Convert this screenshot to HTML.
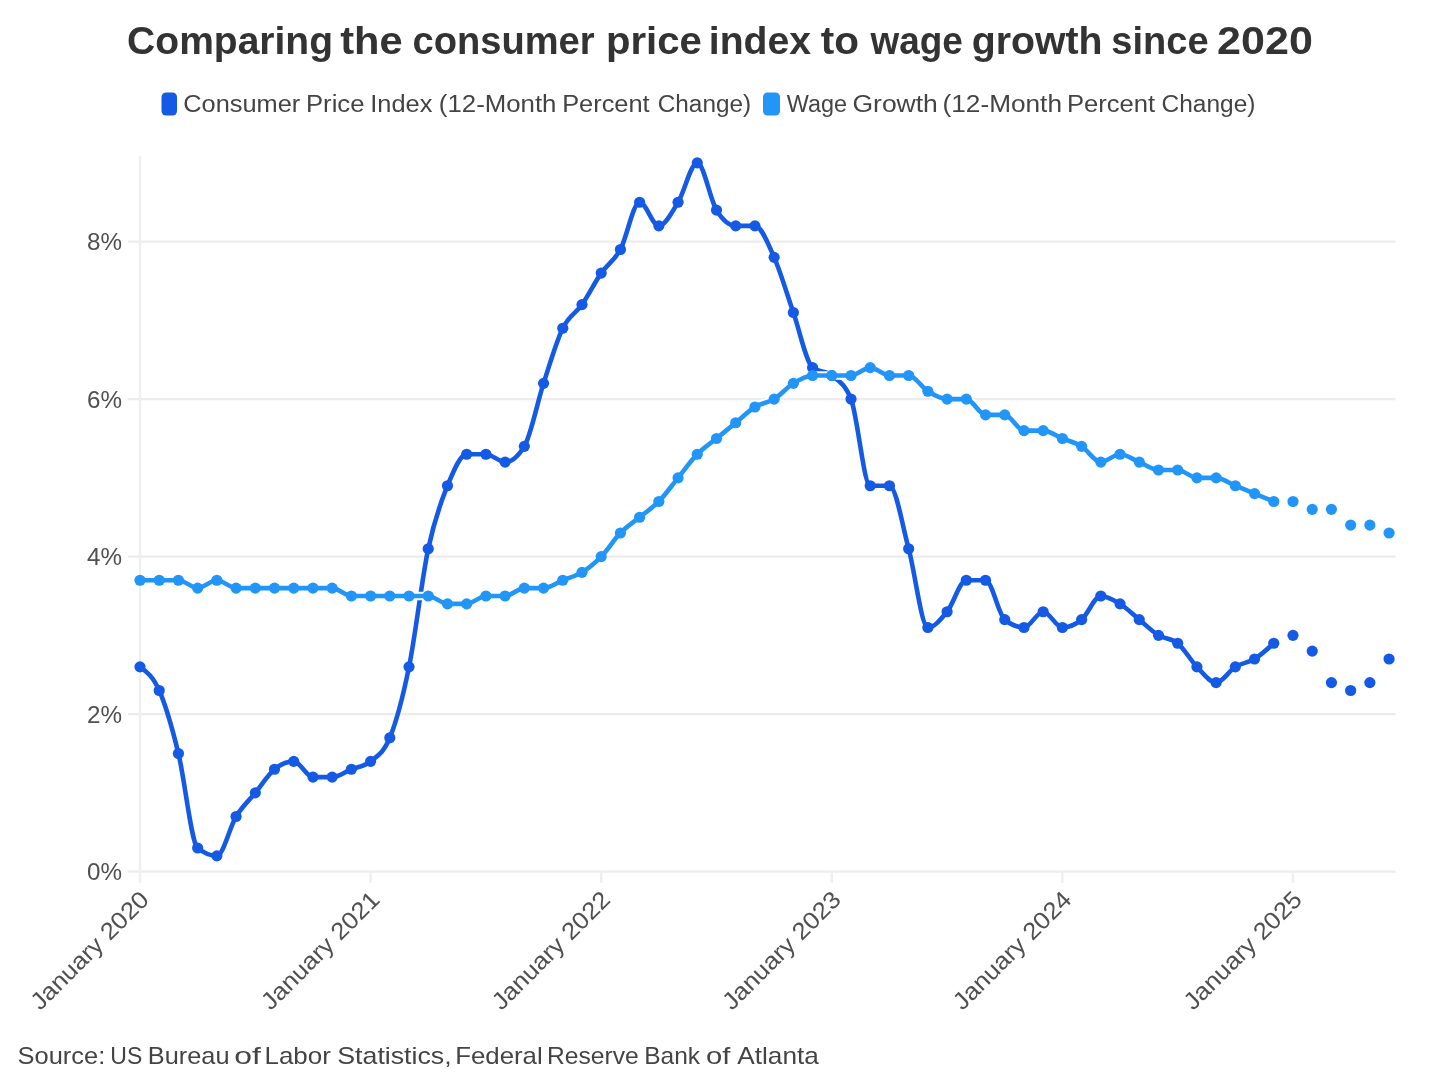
<!DOCTYPE html>
<html><head><meta charset="utf-8"><style>
html,body{margin:0;padding:0;background:#fff;width:1440px;height:1090px;overflow:hidden}
svg{display:block;filter:blur(0.5px)}
text{font-family:"Liberation Sans",sans-serif}
.t{font-weight:bold;font-size:38.5px;fill:#333}
.lg{font-size:23.5px;fill:#444}
.yl{font-size:24px;fill:#505050}
.xl{font-size:24px;fill:#505050}
.src{font-size:24px;fill:#444}
</style></head><body>
<svg width="1440" height="1090" viewBox="0 0 1440 1090">
<rect width="1440" height="1090" fill="#fff"/>
<text x="127.13" y="54.00" class="t" textLength="205.90" lengthAdjust="spacingAndGlyphs">Comparing</text><text x="340.26" y="54.00" class="t" textLength="62.45" lengthAdjust="spacingAndGlyphs">the</text><text x="412.52" y="54.00" class="t" textLength="182.08" lengthAdjust="spacingAndGlyphs">consumer</text><text x="605.90" y="54.00" class="t" textLength="95.88" lengthAdjust="spacingAndGlyphs">price</text><text x="708.75" y="54.00" class="t" textLength="102.31" lengthAdjust="spacingAndGlyphs">index</text><text x="820.77" y="54.00" class="t" textLength="38.24" lengthAdjust="spacingAndGlyphs">to</text><text x="870.50" y="54.00" class="t" textLength="92.34" lengthAdjust="spacingAndGlyphs">wage</text><text x="971.67" y="54.00" class="t" textLength="130.88" lengthAdjust="spacingAndGlyphs">growth</text><text x="1111.32" y="54.00" class="t" textLength="97.22" lengthAdjust="spacingAndGlyphs">since</text><text x="1217.05" y="54.00" class="t" textLength="95.80" lengthAdjust="spacingAndGlyphs">2020</text>
<rect x="161.5" y="92.5" width="15.5" height="23" rx="4.5" fill="#155ae4"/>
<text x="183.31" y="112.30" class="lg" textLength="116.93" lengthAdjust="spacingAndGlyphs">Consumer</text><text x="306.03" y="112.30" class="lg" textLength="58.41" lengthAdjust="spacingAndGlyphs">Price</text><text x="370.32" y="112.30" class="lg" textLength="62.09" lengthAdjust="spacingAndGlyphs">Index</text><text x="438.86" y="112.30" class="lg" textLength="117.59" lengthAdjust="spacingAndGlyphs">(12-Month</text><text x="562.15" y="112.30" class="lg" textLength="87.55" lengthAdjust="spacingAndGlyphs">Percent</text><text x="657.76" y="112.30" class="lg" textLength="93.34" lengthAdjust="spacingAndGlyphs">Change)</text>
<rect x="763" y="92.5" width="17" height="23" rx="4.5" fill="#2196f8"/>
<text x="786.80" y="112.30" class="lg" textLength="60.31" lengthAdjust="spacingAndGlyphs">Wage</text><text x="852.45" y="112.30" class="lg" textLength="85.43" lengthAdjust="spacingAndGlyphs">Growth</text><text x="942.54" y="112.30" class="lg" textLength="119.44" lengthAdjust="spacingAndGlyphs">(12-Month</text><text x="1066.93" y="112.30" class="lg" textLength="88.17" lengthAdjust="spacingAndGlyphs">Percent</text><text x="1161.55" y="112.30" class="lg" textLength="93.86" lengthAdjust="spacingAndGlyphs">Change)</text>
<line x1="128" y1="871.6" x2="1395.5" y2="871.6" stroke="#ececec" stroke-width="2.4"/><text x="122" y="880.4" text-anchor="end" class="yl" textLength="35" lengthAdjust="spacingAndGlyphs">0%</text><line x1="128" y1="714.1" x2="1395.5" y2="714.1" stroke="#ececec" stroke-width="2.4"/><text x="122" y="722.9" text-anchor="end" class="yl" textLength="35" lengthAdjust="spacingAndGlyphs">2%</text><line x1="128" y1="556.6" x2="1395.5" y2="556.6" stroke="#ececec" stroke-width="2.4"/><text x="122" y="565.4" text-anchor="end" class="yl" textLength="35" lengthAdjust="spacingAndGlyphs">4%</text><line x1="128" y1="399.1" x2="1395.5" y2="399.1" stroke="#ececec" stroke-width="2.4"/><text x="122" y="407.9" text-anchor="end" class="yl" textLength="35" lengthAdjust="spacingAndGlyphs">6%</text><line x1="128" y1="241.6" x2="1395.5" y2="241.6" stroke="#ececec" stroke-width="2.4"/><text x="122" y="250.4" text-anchor="end" class="yl" textLength="35" lengthAdjust="spacingAndGlyphs">8%</text><line x1="140" y1="156" x2="140" y2="883" stroke="#eef0ef" stroke-width="2.4"/><line x1="370.6" y1="871" x2="370.6" y2="883" stroke="#eef0ef" stroke-width="2.4"/><line x1="601.2" y1="871" x2="601.2" y2="883" stroke="#eef0ef" stroke-width="2.4"/><line x1="831.8" y1="871" x2="831.8" y2="883" stroke="#eef0ef" stroke-width="2.4"/><line x1="1062.4" y1="871" x2="1062.4" y2="883" stroke="#eef0ef" stroke-width="2.4"/><line x1="1293.0" y1="871" x2="1293.0" y2="883" stroke="#eef0ef" stroke-width="2.4"/>
<text transform="translate(150.5,901) rotate(-45)" text-anchor="end" class="xl" textLength="156" lengthAdjust="spacingAndGlyphs">January 2020</text><text transform="translate(381.1,901) rotate(-45)" text-anchor="end" class="xl" textLength="156" lengthAdjust="spacingAndGlyphs">January 2021</text><text transform="translate(611.7,901) rotate(-45)" text-anchor="end" class="xl" textLength="156" lengthAdjust="spacingAndGlyphs">January 2022</text><text transform="translate(842.3,901) rotate(-45)" text-anchor="end" class="xl" textLength="156" lengthAdjust="spacingAndGlyphs">January 2023</text><text transform="translate(1072.9,901) rotate(-45)" text-anchor="end" class="xl" textLength="156" lengthAdjust="spacingAndGlyphs">January 2024</text><text transform="translate(1303.5,901) rotate(-45)" text-anchor="end" class="xl" textLength="156" lengthAdjust="spacingAndGlyphs">January 2025</text>
<path d="M140.00,666.85C146.41,671.44,152.81,676.04,159.22,690.48C165.62,704.91,172.03,727.23,178.43,753.48C184.84,779.73,191.24,842.73,197.65,847.98C204.06,853.23,210.46,855.85,216.87,855.85C223.27,855.85,229.68,826.98,236.08,816.48C242.49,805.98,248.89,800.73,255.30,792.85C261.71,784.98,268.11,774.48,274.52,769.23C280.92,763.98,287.33,761.35,293.73,761.35C300.14,761.35,306.54,777.10,312.95,777.10C319.36,777.10,325.76,777.10,332.17,777.10C338.57,777.10,344.98,771.85,351.38,769.23C357.79,766.60,364.19,766.60,370.60,761.35C377.01,756.10,383.41,753.48,389.82,737.73C396.22,721.98,402.63,698.35,409.03,666.85C415.44,635.35,421.84,578.91,428.25,548.73C434.66,518.54,441.06,501.48,447.47,485.73C453.87,469.98,460.28,454.23,466.68,454.23C473.09,454.23,479.49,454.23,485.90,454.23C492.31,454.23,498.71,462.10,505.12,462.10C511.52,462.10,517.93,456.85,524.33,446.35C530.74,435.85,537.14,403.04,543.55,383.35C549.96,363.66,556.36,341.35,562.77,328.23C569.17,315.10,575.58,313.79,581.98,304.60C588.39,295.41,594.79,282.29,601.20,273.10C607.61,263.91,614.01,261.29,620.42,249.48C626.82,237.66,633.23,202.23,639.63,202.23C646.04,202.23,652.44,225.85,658.85,225.85C665.26,225.85,671.66,212.73,678.07,202.23C684.47,191.73,690.88,162.85,697.28,162.85C703.69,162.85,710.09,199.60,716.50,210.10C722.91,220.60,729.31,225.85,735.72,225.85C742.12,225.85,748.53,225.85,754.93,225.85C761.34,225.85,767.74,242.91,774.15,257.35C780.56,271.79,786.96,294.10,793.37,312.48C799.77,330.85,806.18,362.35,812.58,367.60C818.99,372.85,825.39,370.23,831.80,375.48C838.21,380.73,844.61,383.35,851.02,399.10C857.42,414.85,863.83,485.73,870.23,485.73C876.64,485.73,883.04,485.73,889.45,485.73C895.86,485.73,902.26,525.10,908.67,548.73C915.07,572.35,921.48,627.48,927.88,627.48C934.29,627.48,940.69,619.60,947.10,611.73C953.51,603.85,959.91,580.23,966.32,580.23C972.72,580.23,979.13,580.23,985.53,580.23C991.94,580.23,998.34,614.35,1004.75,619.60C1011.16,624.85,1017.56,627.48,1023.97,627.48C1030.37,627.48,1036.78,611.73,1043.18,611.73C1049.59,611.73,1055.99,627.48,1062.40,627.48C1068.81,627.48,1075.21,624.85,1081.62,619.60C1088.02,614.35,1094.43,595.98,1100.83,595.98C1107.24,595.98,1113.64,599.91,1120.05,603.85C1126.46,607.79,1132.86,614.35,1139.27,619.60C1145.67,624.85,1152.08,631.41,1158.48,635.35C1164.89,639.29,1171.29,637.98,1177.70,643.23C1184.11,648.48,1190.51,660.29,1196.92,666.85C1203.32,673.41,1209.73,682.60,1216.13,682.60C1222.54,682.60,1228.94,670.79,1235.35,666.85C1241.76,662.91,1248.16,662.91,1254.57,658.98C1260.97,655.04,1267.38,649.13,1273.78,643.23" fill="none" stroke="#155ae4" stroke-width="4.6" stroke-linejoin="round" stroke-linecap="round"/><circle cx="140.00" cy="666.85" r="5.6" fill="#155ae4"/><circle cx="159.22" cy="690.48" r="5.6" fill="#155ae4"/><circle cx="178.43" cy="753.48" r="5.6" fill="#155ae4"/><circle cx="197.65" cy="847.98" r="5.6" fill="#155ae4"/><circle cx="216.87" cy="855.85" r="5.6" fill="#155ae4"/><circle cx="236.08" cy="816.48" r="5.6" fill="#155ae4"/><circle cx="255.30" cy="792.85" r="5.6" fill="#155ae4"/><circle cx="274.52" cy="769.23" r="5.6" fill="#155ae4"/><circle cx="293.73" cy="761.35" r="5.6" fill="#155ae4"/><circle cx="312.95" cy="777.10" r="5.6" fill="#155ae4"/><circle cx="332.17" cy="777.10" r="5.6" fill="#155ae4"/><circle cx="351.38" cy="769.23" r="5.6" fill="#155ae4"/><circle cx="370.60" cy="761.35" r="5.6" fill="#155ae4"/><circle cx="389.82" cy="737.73" r="5.6" fill="#155ae4"/><circle cx="409.03" cy="666.85" r="5.6" fill="#155ae4"/><circle cx="428.25" cy="548.73" r="5.6" fill="#155ae4"/><circle cx="447.47" cy="485.73" r="5.6" fill="#155ae4"/><circle cx="466.68" cy="454.23" r="5.6" fill="#155ae4"/><circle cx="485.90" cy="454.23" r="5.6" fill="#155ae4"/><circle cx="505.12" cy="462.10" r="5.6" fill="#155ae4"/><circle cx="524.33" cy="446.35" r="5.6" fill="#155ae4"/><circle cx="543.55" cy="383.35" r="5.6" fill="#155ae4"/><circle cx="562.77" cy="328.23" r="5.6" fill="#155ae4"/><circle cx="581.98" cy="304.60" r="5.6" fill="#155ae4"/><circle cx="601.20" cy="273.10" r="5.6" fill="#155ae4"/><circle cx="620.42" cy="249.48" r="5.6" fill="#155ae4"/><circle cx="639.63" cy="202.23" r="5.6" fill="#155ae4"/><circle cx="658.85" cy="225.85" r="5.6" fill="#155ae4"/><circle cx="678.07" cy="202.23" r="5.6" fill="#155ae4"/><circle cx="697.28" cy="162.85" r="5.6" fill="#155ae4"/><circle cx="716.50" cy="210.10" r="5.6" fill="#155ae4"/><circle cx="735.72" cy="225.85" r="5.6" fill="#155ae4"/><circle cx="754.93" cy="225.85" r="5.6" fill="#155ae4"/><circle cx="774.15" cy="257.35" r="5.6" fill="#155ae4"/><circle cx="793.37" cy="312.48" r="5.6" fill="#155ae4"/><circle cx="812.58" cy="367.60" r="5.6" fill="#155ae4"/><circle cx="831.80" cy="375.48" r="5.6" fill="#155ae4"/><circle cx="851.02" cy="399.10" r="5.6" fill="#155ae4"/><circle cx="870.23" cy="485.73" r="5.6" fill="#155ae4"/><circle cx="889.45" cy="485.73" r="5.6" fill="#155ae4"/><circle cx="908.67" cy="548.73" r="5.6" fill="#155ae4"/><circle cx="927.88" cy="627.48" r="5.6" fill="#155ae4"/><circle cx="947.10" cy="611.73" r="5.6" fill="#155ae4"/><circle cx="966.32" cy="580.23" r="5.6" fill="#155ae4"/><circle cx="985.53" cy="580.23" r="5.6" fill="#155ae4"/><circle cx="1004.75" cy="619.60" r="5.6" fill="#155ae4"/><circle cx="1023.97" cy="627.48" r="5.6" fill="#155ae4"/><circle cx="1043.18" cy="611.73" r="5.6" fill="#155ae4"/><circle cx="1062.40" cy="627.48" r="5.6" fill="#155ae4"/><circle cx="1081.62" cy="619.60" r="5.6" fill="#155ae4"/><circle cx="1100.83" cy="595.98" r="5.6" fill="#155ae4"/><circle cx="1120.05" cy="603.85" r="5.6" fill="#155ae4"/><circle cx="1139.27" cy="619.60" r="5.6" fill="#155ae4"/><circle cx="1158.48" cy="635.35" r="5.6" fill="#155ae4"/><circle cx="1177.70" cy="643.23" r="5.6" fill="#155ae4"/><circle cx="1196.92" cy="666.85" r="5.6" fill="#155ae4"/><circle cx="1216.13" cy="682.60" r="5.6" fill="#155ae4"/><circle cx="1235.35" cy="666.85" r="5.6" fill="#155ae4"/><circle cx="1254.57" cy="658.98" r="5.6" fill="#155ae4"/><circle cx="1273.78" cy="643.23" r="5.6" fill="#155ae4"/><circle cx="1293.00" cy="635.35" r="5.6" fill="#155ae4"/><circle cx="1312.22" cy="651.10" r="5.6" fill="#155ae4"/><circle cx="1331.43" cy="682.60" r="5.6" fill="#155ae4"/><circle cx="1350.65" cy="690.48" r="5.6" fill="#155ae4"/><circle cx="1369.87" cy="682.60" r="5.6" fill="#155ae4"/><circle cx="1389.08" cy="658.98" r="5.6" fill="#155ae4"/>
<path d="M140.00,580.23C146.41,580.23,152.81,580.23,159.22,580.23C165.62,580.23,172.03,580.23,178.43,580.23C184.84,580.23,191.24,588.10,197.65,588.10C204.06,588.10,210.46,580.23,216.87,580.23C223.27,580.23,229.68,588.10,236.08,588.10C242.49,588.10,248.89,588.10,255.30,588.10C261.71,588.10,268.11,588.10,274.52,588.10C280.92,588.10,287.33,588.10,293.73,588.10C300.14,588.10,306.54,588.10,312.95,588.10C319.36,588.10,325.76,588.10,332.17,588.10C338.57,588.10,344.98,595.98,351.38,595.98C357.79,595.98,364.19,595.98,370.60,595.98C377.01,595.98,383.41,595.98,389.82,595.98C396.22,595.98,402.63,595.98,409.03,595.98C415.44,595.98,421.84,595.98,428.25,595.98C434.66,595.98,441.06,603.85,447.47,603.85C453.87,603.85,460.28,603.85,466.68,603.85C473.09,603.85,479.49,595.98,485.90,595.98C492.31,595.98,498.71,595.98,505.12,595.98C511.52,595.98,517.93,588.10,524.33,588.10C530.74,588.10,537.14,588.10,543.55,588.10C549.96,588.10,556.36,582.85,562.77,580.23C569.17,577.60,575.58,576.29,581.98,572.35C588.39,568.41,594.79,563.16,601.20,556.60C607.61,550.04,614.01,539.54,620.42,532.98C626.82,526.41,633.23,522.48,639.63,517.23C646.04,511.98,652.44,508.04,658.85,501.48C665.26,494.91,671.66,485.73,678.07,477.85C684.47,469.98,690.88,460.79,697.28,454.23C703.69,447.66,710.09,443.73,716.50,438.48C722.91,433.23,729.31,427.98,735.72,422.73C742.12,417.48,748.53,410.91,754.93,406.98C761.34,403.04,767.74,403.04,774.15,399.10C780.56,395.16,786.96,387.29,793.37,383.35C799.77,379.41,806.18,375.48,812.58,375.48C818.99,375.48,825.39,375.48,831.80,375.48C838.21,375.48,844.61,375.48,851.02,375.48C857.42,375.48,863.83,367.60,870.23,367.60C876.64,367.60,883.04,375.48,889.45,375.48C895.86,375.48,902.26,375.48,908.67,375.48C915.07,375.48,921.48,387.29,927.88,391.23C934.29,395.16,940.69,399.10,947.10,399.10C953.51,399.10,959.91,399.10,966.32,399.10C972.72,399.10,979.13,414.85,985.53,414.85C991.94,414.85,998.34,414.85,1004.75,414.85C1011.16,414.85,1017.56,430.60,1023.97,430.60C1030.37,430.60,1036.78,430.60,1043.18,430.60C1049.59,430.60,1055.99,435.85,1062.40,438.48C1068.81,441.10,1075.21,442.41,1081.62,446.35C1088.02,450.29,1094.43,462.10,1100.83,462.10C1107.24,462.10,1113.64,454.23,1120.05,454.23C1126.46,454.23,1132.86,459.48,1139.27,462.10C1145.67,464.73,1152.08,469.98,1158.48,469.98C1164.89,469.98,1171.29,469.98,1177.70,469.98C1184.11,469.98,1190.51,477.85,1196.92,477.85C1203.32,477.85,1209.73,477.85,1216.13,477.85C1222.54,477.85,1228.94,483.10,1235.35,485.73C1241.76,488.35,1248.16,490.98,1254.57,493.60C1260.97,496.23,1267.38,498.85,1273.78,501.48" fill="none" stroke="#fff" stroke-width="8.6" stroke-linejoin="round" stroke-linecap="round"/><path d="M140.00,580.23C146.41,580.23,152.81,580.23,159.22,580.23C165.62,580.23,172.03,580.23,178.43,580.23C184.84,580.23,191.24,588.10,197.65,588.10C204.06,588.10,210.46,580.23,216.87,580.23C223.27,580.23,229.68,588.10,236.08,588.10C242.49,588.10,248.89,588.10,255.30,588.10C261.71,588.10,268.11,588.10,274.52,588.10C280.92,588.10,287.33,588.10,293.73,588.10C300.14,588.10,306.54,588.10,312.95,588.10C319.36,588.10,325.76,588.10,332.17,588.10C338.57,588.10,344.98,595.98,351.38,595.98C357.79,595.98,364.19,595.98,370.60,595.98C377.01,595.98,383.41,595.98,389.82,595.98C396.22,595.98,402.63,595.98,409.03,595.98C415.44,595.98,421.84,595.98,428.25,595.98C434.66,595.98,441.06,603.85,447.47,603.85C453.87,603.85,460.28,603.85,466.68,603.85C473.09,603.85,479.49,595.98,485.90,595.98C492.31,595.98,498.71,595.98,505.12,595.98C511.52,595.98,517.93,588.10,524.33,588.10C530.74,588.10,537.14,588.10,543.55,588.10C549.96,588.10,556.36,582.85,562.77,580.23C569.17,577.60,575.58,576.29,581.98,572.35C588.39,568.41,594.79,563.16,601.20,556.60C607.61,550.04,614.01,539.54,620.42,532.98C626.82,526.41,633.23,522.48,639.63,517.23C646.04,511.98,652.44,508.04,658.85,501.48C665.26,494.91,671.66,485.73,678.07,477.85C684.47,469.98,690.88,460.79,697.28,454.23C703.69,447.66,710.09,443.73,716.50,438.48C722.91,433.23,729.31,427.98,735.72,422.73C742.12,417.48,748.53,410.91,754.93,406.98C761.34,403.04,767.74,403.04,774.15,399.10C780.56,395.16,786.96,387.29,793.37,383.35C799.77,379.41,806.18,375.48,812.58,375.48C818.99,375.48,825.39,375.48,831.80,375.48C838.21,375.48,844.61,375.48,851.02,375.48C857.42,375.48,863.83,367.60,870.23,367.60C876.64,367.60,883.04,375.48,889.45,375.48C895.86,375.48,902.26,375.48,908.67,375.48C915.07,375.48,921.48,387.29,927.88,391.23C934.29,395.16,940.69,399.10,947.10,399.10C953.51,399.10,959.91,399.10,966.32,399.10C972.72,399.10,979.13,414.85,985.53,414.85C991.94,414.85,998.34,414.85,1004.75,414.85C1011.16,414.85,1017.56,430.60,1023.97,430.60C1030.37,430.60,1036.78,430.60,1043.18,430.60C1049.59,430.60,1055.99,435.85,1062.40,438.48C1068.81,441.10,1075.21,442.41,1081.62,446.35C1088.02,450.29,1094.43,462.10,1100.83,462.10C1107.24,462.10,1113.64,454.23,1120.05,454.23C1126.46,454.23,1132.86,459.48,1139.27,462.10C1145.67,464.73,1152.08,469.98,1158.48,469.98C1164.89,469.98,1171.29,469.98,1177.70,469.98C1184.11,469.98,1190.51,477.85,1196.92,477.85C1203.32,477.85,1209.73,477.85,1216.13,477.85C1222.54,477.85,1228.94,483.10,1235.35,485.73C1241.76,488.35,1248.16,490.98,1254.57,493.60C1260.97,496.23,1267.38,498.85,1273.78,501.48" fill="none" stroke="#2196f8" stroke-width="4.6" stroke-linejoin="round" stroke-linecap="round"/><circle cx="140.00" cy="580.23" r="5.6" fill="#2196f8"/><circle cx="159.22" cy="580.23" r="5.6" fill="#2196f8"/><circle cx="178.43" cy="580.23" r="5.6" fill="#2196f8"/><circle cx="197.65" cy="588.10" r="5.6" fill="#2196f8"/><circle cx="216.87" cy="580.23" r="5.6" fill="#2196f8"/><circle cx="236.08" cy="588.10" r="5.6" fill="#2196f8"/><circle cx="255.30" cy="588.10" r="5.6" fill="#2196f8"/><circle cx="274.52" cy="588.10" r="5.6" fill="#2196f8"/><circle cx="293.73" cy="588.10" r="5.6" fill="#2196f8"/><circle cx="312.95" cy="588.10" r="5.6" fill="#2196f8"/><circle cx="332.17" cy="588.10" r="5.6" fill="#2196f8"/><circle cx="351.38" cy="595.98" r="5.6" fill="#2196f8"/><circle cx="370.60" cy="595.98" r="5.6" fill="#2196f8"/><circle cx="389.82" cy="595.98" r="5.6" fill="#2196f8"/><circle cx="409.03" cy="595.98" r="5.6" fill="#2196f8"/><circle cx="428.25" cy="595.98" r="5.6" fill="#2196f8"/><circle cx="447.47" cy="603.85" r="5.6" fill="#2196f8"/><circle cx="466.68" cy="603.85" r="5.6" fill="#2196f8"/><circle cx="485.90" cy="595.98" r="5.6" fill="#2196f8"/><circle cx="505.12" cy="595.98" r="5.6" fill="#2196f8"/><circle cx="524.33" cy="588.10" r="5.6" fill="#2196f8"/><circle cx="543.55" cy="588.10" r="5.6" fill="#2196f8"/><circle cx="562.77" cy="580.23" r="5.6" fill="#2196f8"/><circle cx="581.98" cy="572.35" r="5.6" fill="#2196f8"/><circle cx="601.20" cy="556.60" r="5.6" fill="#2196f8"/><circle cx="620.42" cy="532.98" r="5.6" fill="#2196f8"/><circle cx="639.63" cy="517.23" r="5.6" fill="#2196f8"/><circle cx="658.85" cy="501.48" r="5.6" fill="#2196f8"/><circle cx="678.07" cy="477.85" r="5.6" fill="#2196f8"/><circle cx="697.28" cy="454.23" r="5.6" fill="#2196f8"/><circle cx="716.50" cy="438.48" r="5.6" fill="#2196f8"/><circle cx="735.72" cy="422.73" r="5.6" fill="#2196f8"/><circle cx="754.93" cy="406.98" r="5.6" fill="#2196f8"/><circle cx="774.15" cy="399.10" r="5.6" fill="#2196f8"/><circle cx="793.37" cy="383.35" r="5.6" fill="#2196f8"/><circle cx="812.58" cy="375.48" r="5.6" fill="#2196f8"/><circle cx="831.80" cy="375.48" r="5.6" fill="#2196f8"/><circle cx="851.02" cy="375.48" r="5.6" fill="#2196f8"/><circle cx="870.23" cy="367.60" r="5.6" fill="#2196f8"/><circle cx="889.45" cy="375.48" r="5.6" fill="#2196f8"/><circle cx="908.67" cy="375.48" r="5.6" fill="#2196f8"/><circle cx="927.88" cy="391.23" r="5.6" fill="#2196f8"/><circle cx="947.10" cy="399.10" r="5.6" fill="#2196f8"/><circle cx="966.32" cy="399.10" r="5.6" fill="#2196f8"/><circle cx="985.53" cy="414.85" r="5.6" fill="#2196f8"/><circle cx="1004.75" cy="414.85" r="5.6" fill="#2196f8"/><circle cx="1023.97" cy="430.60" r="5.6" fill="#2196f8"/><circle cx="1043.18" cy="430.60" r="5.6" fill="#2196f8"/><circle cx="1062.40" cy="438.48" r="5.6" fill="#2196f8"/><circle cx="1081.62" cy="446.35" r="5.6" fill="#2196f8"/><circle cx="1100.83" cy="462.10" r="5.6" fill="#2196f8"/><circle cx="1120.05" cy="454.23" r="5.6" fill="#2196f8"/><circle cx="1139.27" cy="462.10" r="5.6" fill="#2196f8"/><circle cx="1158.48" cy="469.98" r="5.6" fill="#2196f8"/><circle cx="1177.70" cy="469.98" r="5.6" fill="#2196f8"/><circle cx="1196.92" cy="477.85" r="5.6" fill="#2196f8"/><circle cx="1216.13" cy="477.85" r="5.6" fill="#2196f8"/><circle cx="1235.35" cy="485.73" r="5.6" fill="#2196f8"/><circle cx="1254.57" cy="493.60" r="5.6" fill="#2196f8"/><circle cx="1273.78" cy="501.48" r="5.6" fill="#2196f8"/><circle cx="1293.00" cy="501.48" r="5.6" fill="#2196f8"/><circle cx="1312.22" cy="509.35" r="5.6" fill="#2196f8"/><circle cx="1331.43" cy="509.35" r="5.6" fill="#2196f8"/><circle cx="1350.65" cy="525.10" r="5.6" fill="#2196f8"/><circle cx="1369.87" cy="525.10" r="5.6" fill="#2196f8"/><circle cx="1389.08" cy="532.98" r="5.6" fill="#2196f8"/>
<text x="17.58" y="1064.00" class="src" textLength="87.66" lengthAdjust="spacingAndGlyphs">Source:</text><text x="110.37" y="1064.00" class="src" textLength="31.97" lengthAdjust="spacingAndGlyphs">US</text><text x="147.89" y="1064.00" class="src" textLength="81.59" lengthAdjust="spacingAndGlyphs">Bureau</text><text x="234.27" y="1064.00" class="src" textLength="26.55" lengthAdjust="spacingAndGlyphs">of</text><text x="264.54" y="1064.00" class="src" textLength="66.28" lengthAdjust="spacingAndGlyphs">Labor</text><text x="337.27" y="1064.00" class="src" textLength="114.37" lengthAdjust="spacingAndGlyphs">Statistics,</text><text x="455.15" y="1064.00" class="src" textLength="87.56" lengthAdjust="spacingAndGlyphs">Federal</text><text x="547.05" y="1064.00" class="src" textLength="91.75" lengthAdjust="spacingAndGlyphs">Reserve</text><text x="644.26" y="1064.00" class="src" textLength="55.85" lengthAdjust="spacingAndGlyphs">Bank</text><text x="705.98" y="1064.00" class="src" textLength="24.34" lengthAdjust="spacingAndGlyphs">of</text><text x="737.29" y="1064.00" class="src" textLength="81.53" lengthAdjust="spacingAndGlyphs">Atlanta</text>
</svg>
</body></html>
